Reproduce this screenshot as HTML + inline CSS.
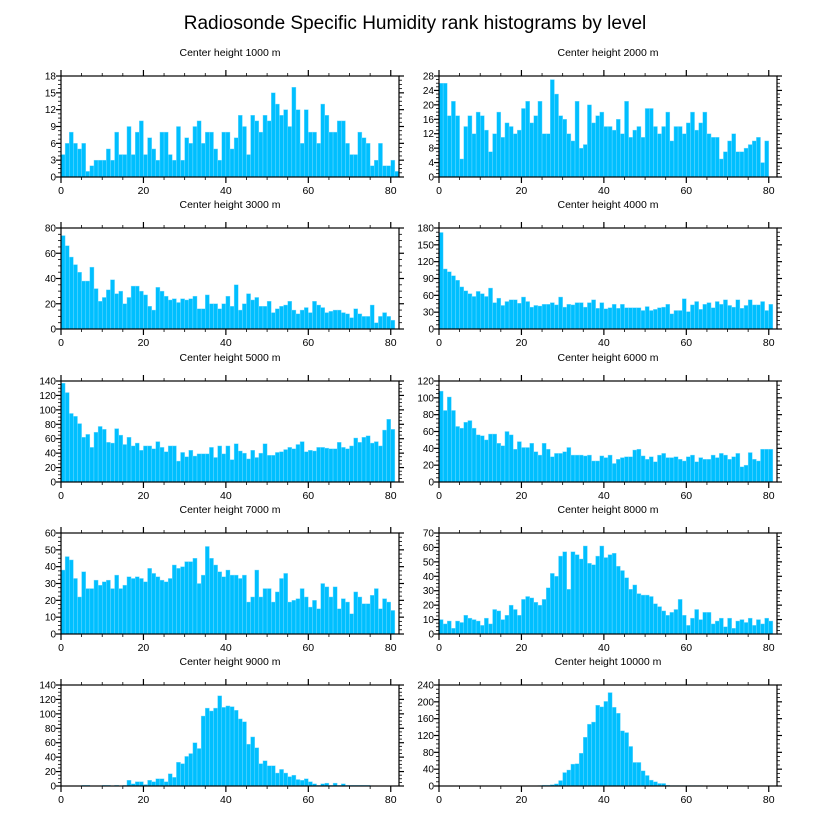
<!DOCTYPE html>
<html><head><meta charset="utf-8"><style>
html,body{margin:0;padding:0;background:#fff;}
svg{display:block;font-family:"Liberation Sans",Arial,sans-serif;}
</style></head><body>
<svg id="chart" width="816" height="824" viewBox="0 0 816 824" xmlns="http://www.w3.org/2000/svg">
<rect width="816" height="824" fill="#fff"/>
<text x="415" y="29" font-size="19" text-anchor="middle" fill="#000">Radiosonde Specific Humidity rank histograms by level</text>
</svg>
<script>
const panelTitles = ["Center height 1000 m","Center height 2000 m","Center height 3000 m","Center height 4000 m","Center height 5000 m","Center height 6000 m","Center height 7000 m","Center height 8000 m","Center height 9000 m","Center height 10000 m"];
const yMax = [18,28,80,180,140,120,60,70,140,240];
const yStep = [3,4,20,30,20,20,10,10,20,40];
const xTicks = [0,20,40,60,80];
const h1000 = [4,6,8,6,5,6,1,2,3,3,3,5,3,8,4,4,9,4,8,10,4,7,5,3,8,8,4,3,9,3,7,6,9,10,6,8,8,5,3,8,8,5,7,11,9,4,11,10,8,11,10,15,13,11,12,9,16,12,6,12,8,8,6,13,11,8,8,10,10,6,4,4,8,7,6,2,3,6,2,2,3,1];
const h2000 = [26,26,17,21,17,5,14,17,12,18,17,13,7,12,18,11,15,14,12,13,19,21,15,17,21,12,12,27,23,17,16,12,10,21,8,9,20,15,17,18,14,14,13,16,12,21,11,13,14,11,19,19,14,12,14,18,10,14,14,12,15,18,13,15,18,12,11,11,5,7,10,12,7,7,8,9,10,11,4,10,0,0];
const h3000 = [74,66,57,51,45,38,38,49,32,22,25,31,39,28,30,20,25,34,34,30,27,18,15,33,30,26,23,24,21,24,23,24,26,16,16,27,20,20,16,20,26,18,35,15,20,28,23,25,18,18,22,13,16,18,19,22,15,12,15,17,13,22,19,17,13,14,15,15,13,12,9,16,12,10,10,19,5,10,13,10,7,0];
const h4000 = [172,107,102,95,87,75,68,63,58,67,63,58,73,47,55,42,49,52,52,46,57,49,39,42,41,44,44,47,43,57,39,44,43,47,47,39,47,52,37,47,36,38,44,37,44,38,38,38,38,33,40,33,35,38,39,44,27,33,33,54,31,43,49,35,44,47,38,49,44,52,42,39,52,37,42,52,43,43,49,33,44,0];
const h5000 = [137,124,95,91,81,62,66,48,69,77,73,55,54,74,65,52,62,50,54,44,50,50,46,56,48,42,50,50,29,41,35,44,36,39,39,39,48,34,50,39,50,31,53,43,40,32,44,34,40,53,37,37,41,42,45,48,46,52,56,42,44,43,48,48,47,46,46,55,48,46,50,61,55,62,64,54,56,50,72,87,73,0];
const h6000 = [108,85,101,85,66,64,71,73,64,56,55,50,57,57,46,43,60,56,39,48,41,41,46,36,32,46,39,30,34,34,36,41,32,32,32,31,32,25,25,31,29,32,22,27,29,30,30,38,39,31,27,30,24,32,34,29,29,30,27,25,30,32,24,29,27,27,32,29,34,32,27,30,34,18,20,35,27,25,39,39,39,0];
const h7000 = [38,46,44,33,22,37,27,27,32,29,31,32,27,35,27,29,34,33,34,33,31,39,36,34,32,31,33,41,39,40,43,43,45,30,35,52,45,41,37,34,38,35,35,33,35,19,22,38,22,27,27,19,25,33,36,19,20,21,27,22,16,20,15,30,28,22,28,15,21,19,12,25,22,18,18,23,27,15,21,19,14,0];
const h8000 = [10,7,9,4,9,8,13,11,10,9,6,11,7,17,16,10,13,20,17,13,24,26,25,22,20,24,32,42,40,54,57,31,57,55,52,61,49,48,54,61,53,55,56,47,44,39,31,34,28,27,27,26,21,19,16,13,15,17,24,13,6,11,17,10,15,15,7,9,11,5,11,4,9,10,8,11,6,10,7,11,9,0];
const h9000 = [0,0,0,0,0,1,1,0,0,0,1,1,0,1,0,1,8,3,6,6,2,8,6,10,10,6,17,12,33,31,41,45,60,52,97,108,104,108,125,109,111,110,105,93,89,58,68,53,31,35,28,28,18,23,18,13,15,9,8,10,6,3,1,3,4,1,4,1,3,1,1,1,1,1,1,0,0,0,0,0,0,0];
const h10000 = [0,0,0,0,0,0,0,0,0,0,0,0,0,0,0,0,0,0,0,0,0,0,0,0,1,2,2,3,5,13,32,38,52,53,78,116,147,152,192,188,201,222,187,173,131,127,94,56,56,36,25,14,10,6,6,2,1,1,1,1,1,1,1,1,0,0,0,0,0,0,0,0,0,0,0,0,0,0,0,0,0,0];
const panelData = [h1000,h2000,h3000,h4000,h5000,h6000,h7000,h8000,h9000,h10000];

const NS = "http://www.w3.org/2000/svg";
const svg = document.getElementById("chart");
function mk(tag, attrs, parent){
  const e = document.createElementNS(NS, tag);
  for (const k in attrs) e.setAttribute(k, attrs[k]);
  (parent||svg).appendChild(e);
  return e;
}
const colX = [61, 439], W = 338;
const rowY = [76, 228, 381, 533, 685], H = 101;
const X_MAX = 82;

panelData.forEach((vals, p) => {
  const col = p % 2, row = Math.floor(p / 2);
  const x0 = colX[col], y0 = rowY[row];
  const g = mk("g", {});
  
  
  const xs = v => x0 + v / X_MAX * W;
  const ys = v => y0 + H - v / yMax[p] * H;
  const t = mk("text", {x: x0 + W/2, y: y0 - 20, "font-size": 10.5, "text-anchor": "middle"}, g);
  t.textContent = panelTitles[p];
  
  
  vals.forEach((v, i) => {
    if (v <= 0) return;
    const b = mk("rect", {x: xs(i), y: ys(v), width: xs(i+1) - xs(i), height: ys(0) - ys(v), fill: "#00BFFF", stroke: "#7fdcff", "stroke-width": 0.4}, g);
    
    
  });
  const fr = mk("rect", {x: x0, y: y0, width: W, height: H, fill: "none", stroke: "#000", "stroke-width": 1.2}, g);
  
  
  for (let v = 0; v <= X_MAX; v += 5) {
    const major = v % 20 === 0, L = major ? 6 : 3;
    mk("line", {x1: xs(v), x2: xs(v), y1: y0, y2: y0 - L, stroke: "#000", "stroke-width": major ? 1.2 : 0.8}, g);
    mk("line", {x1: xs(v), x2: xs(v), y1: y0 + H, y2: y0 + H + L, stroke: "#000", "stroke-width": major ? 1.2 : 0.8}, g);
  }
  xTicks.forEach(v => {
    const l = mk("text", {x: xs(v), y: y0 + H + 17, "font-size": 10.5, "text-anchor": "middle"}, g);
    l.textContent = v;
    
    
  });
  const minor = yStep[p] / 4;
  for (let k = 0; k * minor <= yMax[p] + 1e-9; k++) {
    const v = k * minor, major = k % 4 === 0, L = major ? 5 : 3;
    mk("line", {x1: x0, x2: x0 - L, y1: ys(v), y2: ys(v), stroke: "#000", "stroke-width": major ? 1.2 : 0.8}, g);
    mk("line", {x1: x0 + W, x2: x0 + W + L, y1: ys(v), y2: ys(v), stroke: "#000", "stroke-width": major ? 1.2 : 0.8}, g);
  }
  for (let v = 0; v <= yMax[p]; v += yStep[p]) {
    const l = mk("text", {x: x0 - 5, y: ys(v) + 3.5, "font-size": 10, "text-anchor": "end"}, g);
    l.textContent = v;
    
    
  }
});
</script>
</body></html>
